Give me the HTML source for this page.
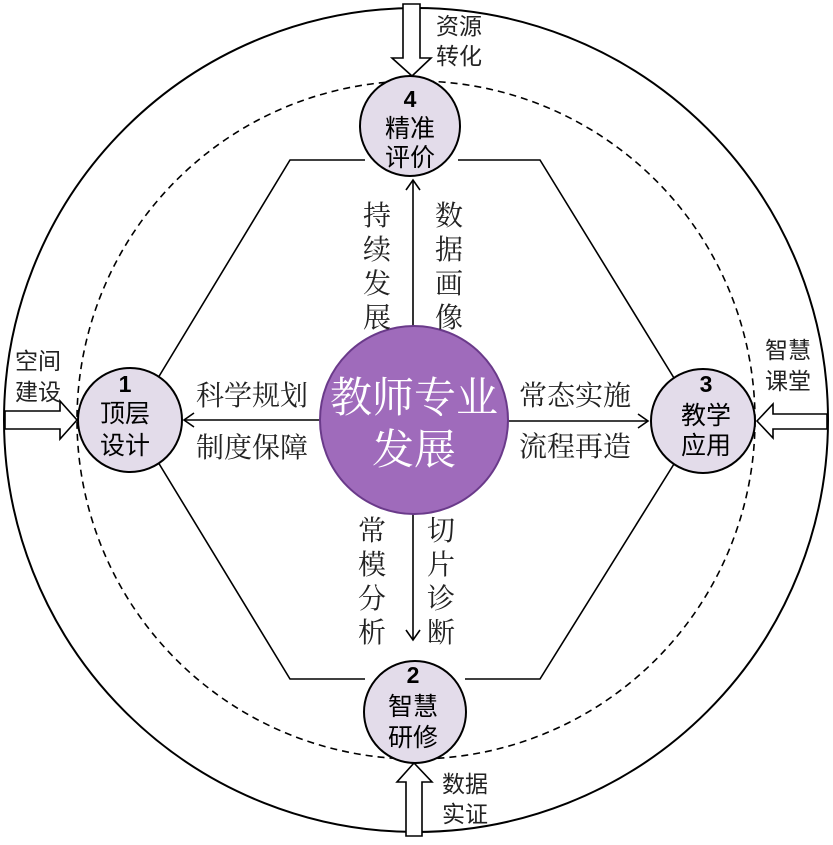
<!DOCTYPE html>
<html><head><meta charset="utf-8"><style>
html,body{margin:0;padding:0;background:#fff;}
svg text{font-family:"Liberation Sans","Noto Sans CJK SC",sans-serif;}
svg .s{font-family:"Liberation Serif","Noto Serif CJK SC",serif;}
</style></head><body>
<svg width="833" height="840" viewBox="0 0 833 840" xmlns="http://www.w3.org/2000/svg">
<rect width="833" height="840" fill="#fff"/>
<circle cx="416" cy="420" r="412" fill="none" stroke="#000" stroke-width="2"/>
<circle cx="416" cy="420" r="339" fill="none" stroke="#000" stroke-width="1.6" stroke-dasharray="7,5"/>
<polyline points="365,160 290,160 158,378" fill="none" stroke="#000" stroke-width="1.6"/>
<polyline points="458,160 540,160 674,378" fill="none" stroke="#000" stroke-width="1.6"/>
<polyline points="158,462 290,679 365,679" fill="none" stroke="#000" stroke-width="1.6"/>
<polyline points="674,464 540,679 465,679" fill="none" stroke="#000" stroke-width="1.6"/>
<g stroke="#000" stroke-width="1.6" fill="none">
<line x1="320" y1="420" x2="184" y2="420"/><polyline points="194,413 184,420 194,427"/>
<line x1="508" y1="421" x2="648" y2="421"/><polyline points="638,414 648,421 638,428"/>
<line x1="413" y1="327" x2="413" y2="180"/><polyline points="406,190 413,180 420,190"/>
<line x1="413" y1="513" x2="413" y2="640"/><polyline points="406,630 413,640 420,630"/>
</g>
<g fill="#fff" stroke="#000" stroke-width="1.6">
<polygon points="403,4 420,4 420,58 431,58 412,76 392,58 403,58"/>
<polygon points="406,836 422,836 422,782 432,782 414,763 397,782 406,782"/>
<polygon points="5,411 60,411 60,401 77,420 60,439 60,429 5,429"/>
<polygon points="827,414 773,414 773,404 757,421 773,438 773,429 827,429"/>
</g>
<circle cx="414" cy="420" r="94" fill="#9f6bbb" stroke="#6a3a8a" stroke-width="2"/>
<text class="s" x="414" y="412" font-size="42" fill="#fff" text-anchor="middle">教师专业</text>
<text class="s" x="414" y="464" font-size="42" fill="#fff" text-anchor="middle">发展</text>
<g fill="#e3dcea" stroke="#000" stroke-width="2">
<circle cx="410" cy="126" r="50"/>
<circle cx="130" cy="420" r="52"/>
<circle cx="703" cy="421" r="52"/>
<circle cx="415" cy="712" r="51"/>
</g>
<g font-size="25" text-anchor="middle" fill="#000">
<text x="410" y="107" font-weight="bold" font-size="23">4</text><text x="410" y="137">精准</text><text x="410" y="166">评价</text>
<text x="125" y="392" font-weight="bold" font-size="23">1</text><text x="125" y="422">顶层</text><text x="125" y="454">设计</text>
<text x="706" y="392" font-weight="bold" font-size="23">3</text><text x="706" y="424">教学</text><text x="706" y="454">应用</text>
<text x="413" y="683" font-weight="bold" font-size="23">2</text><text x="413" y="715">智慧</text><text x="413" y="746">研修</text>
</g>
<g class="s" font-size="28" fill="#222" text-anchor="middle">
<text class="s" x="252" y="405">科学规划</text>
<text class="s" x="252" y="457">制度保障</text>
<text class="s" x="575" y="405">常态实施</text>
<text class="s" x="575" y="456">流程再造</text>
<text class="s" x="377" y="225">持</text><text class="s" x="377" y="259">续</text><text class="s" x="377" y="293">发</text><text class="s" x="377" y="327">展</text>
<text class="s" x="449" y="225">数</text><text class="s" x="449" y="259">据</text><text class="s" x="449" y="293">画</text><text class="s" x="449" y="327">像</text>
<text class="s" x="372" y="540">常</text><text class="s" x="372" y="574">模</text><text class="s" x="372" y="608">分</text><text class="s" x="372" y="642">析</text>
<text class="s" x="441" y="540">切</text><text class="s" x="441" y="574">片</text><text class="s" x="441" y="608">诊</text><text class="s" x="441" y="642">断</text>
</g>
<g font-size="23" fill="#222" text-anchor="middle">
<text x="459" y="34">资源</text><text x="459" y="64">转化</text>
<text x="38" y="369">空间</text><text x="38" y="400">建设</text>
<text x="788" y="358">智慧</text><text x="788" y="389">课堂</text>
<text x="465" y="792">数据</text><text x="465" y="822">实证</text>
</g>
</svg>
</body></html>
